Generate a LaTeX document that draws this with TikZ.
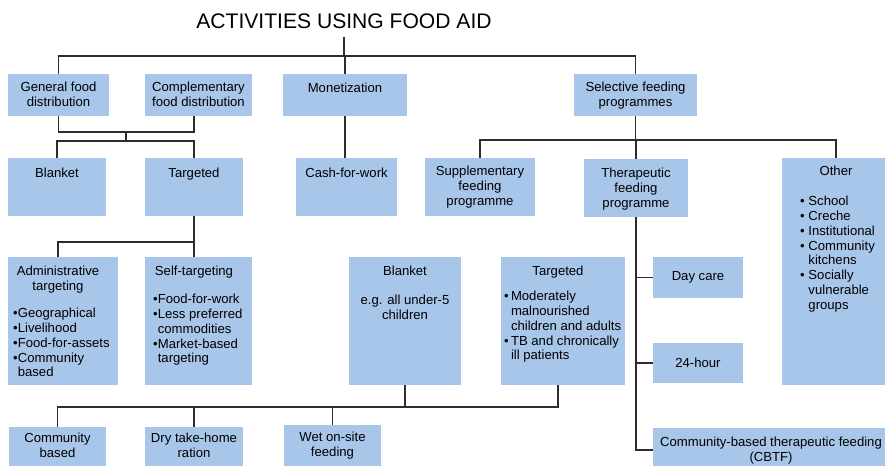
\documentclass[tikz,border=0pt]{standalone}
\usepackage{fontspec}
\setmainfont{Liberation Sans}
\usetikzlibrary{fit, positioning}

\definecolor{boxblue}{RGB}{167,198,233}
\definecolor{linegray}{RGB}{45,45,45}

\begin{document}
\begin{tikzpicture}[
    x=0.03cm, y=-0.03cm,
    box/.style={rectangle, fill=boxblue, inner sep=0pt},
    txt/.style={font=\fontsize{11.2}{12.6}\selectfont, align=center,
                inner sep=0pt, anchor=north},
    bullets/.style={txt, align=left, anchor=north west},
    link/.style={draw=linegray, line width=0.9pt}
]
\useasboundingbox (0,0) rectangle (885,465);
\clip (0,0) rectangle (885,465);

% title
\node[font=\fontsize{18}{20}\selectfont, inner xsep=0pt, inner ysep=6.8pt]
    (title) at (344,21.5) {ACTIVITIES USING FOOD AID};

% first row
\node[box, fit={(8,74) (109,116)}] (gfd) {};
\node[box, fit={(145,74) (252,116)}] (cfd) {};
\node[box, fit={(283,74) (407,116)}] (mon) {};
\node[box, fit={(574,74) (697,116)}] (sfp) {};
\node[txt] at (58.5,82) {General food\\distribution};
\node[txt] at (198.5,82) {Complementary\\food distribution};
\node[txt] at (345,83) {Monetization};
\node[txt] at (635.5,82) {Selective feeding\\programmes};

% second row
\node[box, fit={(8,158) (106,216)}] (blk) {};
\node[box, fit={(145,158) (243,216)}] (tgt) {};
\node[box, fit={(296,158) (397,216)}] (cash) {};
\node[box, fit={(425,158) (535,216)}] (supp) {};
\node[box, fit={(584,159) (688,217)}] (ther) {};
\node[box, fit={(782,158) (890,385)}] (other) {};
\node[txt] at (57,168) {Blanket};
\node[txt] at (194,168) {Targeted};
\node[txt] at (346.5,168) {Cash-for-work};
\node[txt] at (480,166) {Supplementary\\feeding\\programme};
\node[txt] at (636,168) {Therapeutic\\feeding\\programme};
\node[txt] at (836,166) {Other};
\node[bullets] at (800,196) {\textbullet\ School\\\textbullet\ Creche\\
    \textbullet\ Institutional\\\textbullet\ Community\\\phantom{\textbullet\ }kitchens\\
    \textbullet\ Socially\\\phantom{\textbullet\ }vulnerable\\\phantom{\textbullet\ }groups};

% third row
\node[box, fit={(8,257) (118,385)}] (adm) {};
\node[box, fit={(145,257) (252,385)}] (self) {};
\node[box, fit={(349,257) (461,385)}] (blk2) {};
\node[box, fit={(501,257) (625,385)}] (tgt2) {};
\node[txt] (admtitle) at (58,266) {Administrative\\targeting};
\node[bullets] at (13,308) {\textbullet Geographical\\\textbullet Livelihood\\
    \textbullet Food-for-assets\\\textbullet Community\\\phantom{\textbullet}based};
\node[txt] (selftitle) at (194,266) {Self-targeting};
\node[bullets] at (153,294) {\textbullet Food-for-work\\\textbullet Less preferred\\
    \phantom{\textbullet}commodities\\\textbullet Market-based\\\phantom{\textbullet}targeting};
\node[txt] at (405,266) {Blanket};
\node[txt] at (405,295) {e.g. all under-5\\children};
\node[txt] (tgt2title) at (558,266) {Targeted};
\node[bullets] at (504,291) {\textbullet\,Moderately\\\phantom{\textbullet\,}malnourished\\
    \phantom{\textbullet\,}children and adults\\\textbullet\,TB and chronically\\
    \phantom{\textbullet\,}ill patients};

% therapeutic options
\node[box, fit={(653,257) (743,298)}] (day) {};
\node[box, fit={(653,343) (743,383)}] (hour) {};
\node[box, fit={(653,428) (889,472)}] (cbtf) {};
\node[txt, anchor=center] at (day.center) {Day care};
\node[txt, anchor=center] at (hour.center) {24-hour};
\node[txt] at (771,437) {Community-based therapeutic feeding\\(CBTF)};

% bottom row
\node[box, fit={(9,427) (106,472)}] (comm) {};
\node[box, fit={(145,427) (243,472)}] (dry) {};
\node[box, fit={(284,425) (381,472)}] (wet) {};
\node[txt] at (57.5,433) {Community\\based};
\node[txt] at (194,433) {Dry take-home\\ration};
\node[txt] at (332.5,432) {Wet on-site\\feeding};

% junctions
\coordinate (topbar) at (344,56);
\coordinate (join1) at (126,132);
\coordinate (split1) at (126,141);
\coordinate (split2) at (636,140);
\coordinate (split3) at (192,242);
\coordinate (join4) at (405,407);

% connectors
\draw[link] (title.south) -- (topbar);
\draw[link] (gfd.north) |- (sfp.north |- topbar) -- (sfp.north);
\draw[link] (cfd.north -| tgt) -- (cfd.north -| tgt |- topbar);
\draw[link] (mon.north) -- (mon.north |- topbar);
\draw[link] (gfd.south) |- (join1) -| (cfd.south -| tgt);
\draw[link] (join1) -- (split1);
\draw[link] (blk.north) |- (split1) -| (tgt.north);
\draw[link] (mon.south) -- (mon.south |- cash.north);
\draw[link] (sfp.south) -- (sfp.south |- split2);
\draw[link] (supp.north) |- (split2) -| (other.north);
\draw[link] (split2) -- (ther.north);
\draw[link] (ther.south) |- (cbtf.west);
\draw[link] (day.west) -- (day.west -| ther.south);
\draw[link] (hour.west) -- (hour.west -| ther.south);
\draw[link] (tgt.south) -- (tgt.south |- split3);
\draw[link] (adm.north -| admtitle) |- (split3) -| (self.north -| tgt);
\draw[link] (blk2.south) -- (blk2.south |- join4);
\draw[link] (comm.north) |- (join4) -| (tgt2.south -| tgt2title);
\draw[link] (dry.north) -- (dry.north |- join4);
\draw[link] (wet.north) -- (wet.north |- join4);
\end{tikzpicture}
\end{document}
